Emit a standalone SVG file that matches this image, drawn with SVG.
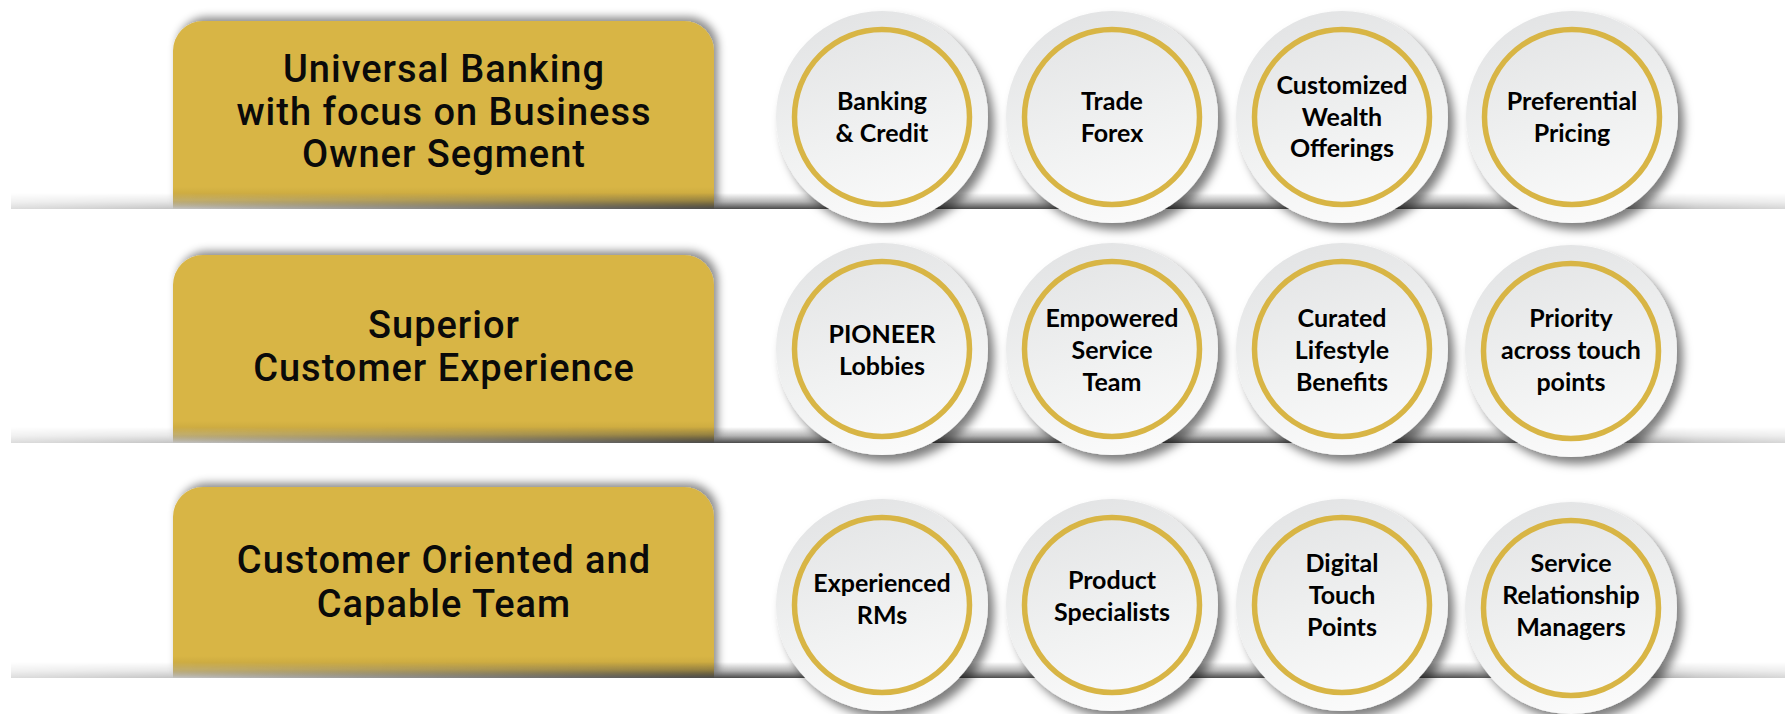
<svg xmlns="http://www.w3.org/2000/svg" width="1785" height="714" viewBox="0 0 1785 714">
  <style>
    .pillar { fill: #d8b545; }
    .pillar-foot { fill: url(#footShade); }
    .title { font-family: Roboto, "Liberation Sans", sans-serif; font-weight: 500; font-size: 38px; letter-spacing: 1px; fill: #0a0a0a; text-anchor: middle; }
    .disc { fill: url(#discFill); }
    .ring { fill: none; stroke: #d8b545; stroke-width: 5.5; }
    .label { font-family: Lato, "Open Sans", sans-serif; font-weight: 700; font-size: 25px; fill: #000; text-anchor: middle; }
    .shelf { fill: url(#shelfTone); }
  </style>
  <defs>
    <!-- soft shading of the disc face -->
    <linearGradient id="discFill" x1="0.35" y1="0" x2="0.65" y2="1">
      <stop offset="0" stop-color="#e3e4e5"/>
      <stop offset="0.55" stop-color="#f0f1f1"/>
      <stop offset="1" stop-color="#fbfbfb"/>
    </linearGradient>
    <!-- darkening at the foot of each gold pillar -->
    <linearGradient id="footShade" x1="0" y1="0" x2="0" y2="1">
      <stop offset="0" stop-color="#2a1e00" stop-opacity="0"/>
      <stop offset="0.6" stop-color="#2a1e00" stop-opacity="0.12"/>
      <stop offset="1" stop-color="#2a1e00" stop-opacity="0.42"/>
    </linearGradient>
    <!-- shelf shade along its length -->
    <linearGradient id="shelfTone" gradientUnits="userSpaceOnUse" x1="0" y1="0" x2="1785" y2="0">
      <stop offset="0" stop-color="#dedede"/>
      <stop offset="0.097" stop-color="#c4c4c4"/>
      <stop offset="0.40" stop-color="#4a4a4a"/>
      <stop offset="0.82" stop-color="#505050"/>
      <stop offset="0.90" stop-color="#8c8c8c"/>
      <stop offset="0.95" stop-color="#c6c6c6"/>
      <stop offset="1" stop-color="#d6d6d6"/>
    </linearGradient>
    <!-- shelf fades upward into the page -->
    <linearGradient id="shelfRamp" x1="0" y1="0" x2="0" y2="1">
      <stop offset="0" stop-color="#000"/>
      <stop offset="0.55" stop-color="#6a6a6a"/>
      <stop offset="1" stop-color="#fff"/>
    </linearGradient>
    <mask id="shelfFade" maskContentUnits="objectBoundingBox" x="0" y="0" width="1" height="1">
      <rect width="1" height="1" fill="url(#shelfRamp)"/>
    </mask>
    <filter id="pillarShadow" x="-5%" y="-10%" width="115%" height="120%">
      <feDropShadow dx="4" dy="-4" stdDeviation="4" flood-color="#000" flood-opacity="0.45"/>
    </filter>
    <filter id="discShadow" x="-15%" y="-15%" width="135%" height="135%">
      <feDropShadow dx="6" dy="7" stdDeviation="5" flood-color="#000" flood-opacity="0.5"/>
    </filter>
    <clipPath id="clipRow1"><rect x="0" y="0" width="1785" height="209"/></clipPath>
    <clipPath id="clipRow2"><rect x="0" y="230" width="1785" height="213"/></clipPath>
    <clipPath id="clipRow3"><rect x="0" y="465" width="1785" height="213"/></clipPath>
    <g id="medal">
      <circle class="disc" r="106"/>
      <circle class="ring" r="87.5"/>
    </g>
  </defs>

  <rect width="1785" height="714" fill="#fff"/>

  <!-- gold pillars -->
  <g id="pillar-universal-banking" clip-path="url(#clipRow1)">
    <path class="pillar" filter="url(#pillarShadow)" d="M173,209 V51 A30,30 0 0 1 203,21 H684 A30,30 0 0 1 714,51 V209 Z"/>
    <rect class="pillar-foot" x="173" y="187" width="541" height="22"/>
    <text class="title" x="444" y="82">Universal Banking</text>
    <text class="title" x="444" y="125">with focus on Business</text>
    <text class="title" x="444" y="167">Owner Segment</text>
  </g>
  <g id="pillar-customer-experience" clip-path="url(#clipRow2)">
    <path class="pillar" filter="url(#pillarShadow)" d="M173,443 V285 A30,30 0 0 1 203,255 H684 A30,30 0 0 1 714,285 V443 Z"/>
    <rect class="pillar-foot" x="173" y="421" width="541" height="22"/>
    <text class="title" x="444" y="338">Superior</text>
    <text class="title" x="444" y="381">Customer Experience</text>
  </g>
  <g id="pillar-capable-team" clip-path="url(#clipRow3)">
    <path class="pillar" filter="url(#pillarShadow)" d="M173,678 V517 A30,30 0 0 1 203,487 H684 A30,30 0 0 1 714,517 V678 Z"/>
    <rect class="pillar-foot" x="173" y="656" width="541" height="22"/>
    <text class="title" x="444" y="573">Customer Oriented and</text>
    <text class="title" x="444" y="617">Capable Team</text>
  </g>

  <!-- shelves under each row -->
  <g id="connectors">
    <rect class="shelf" x="11" y="193" width="1774" height="16" mask="url(#shelfFade)"/>
    <rect class="shelf" x="11" y="427" width="1774" height="16" mask="url(#shelfFade)"/>
    <rect class="shelf" x="11" y="662" width="1774" height="16" mask="url(#shelfFade)"/>
  </g>

  <!-- row 1 -->
  <g id="node-banking-credit">
    <use href="#medal" x="882" y="117" filter="url(#discShadow)"/>
    <text class="label" x="882" y="110">Banking</text>
    <text class="label" x="882" y="142">&amp; Credit</text>
  </g>
  <g id="node-trade-forex">
    <use href="#medal" x="1112" y="117" filter="url(#discShadow)"/>
    <text class="label" x="1112" y="110">Trade</text>
    <text class="label" x="1112" y="142">Forex</text>
  </g>
  <g id="node-wealth-offerings">
    <use href="#medal" x="1342" y="117" filter="url(#discShadow)"/>
    <text class="label" x="1342" y="94">Customized</text>
    <text class="label" x="1342" y="126">Wealth</text>
    <text class="label" x="1342" y="157">Offerings</text>
  </g>
  <g id="node-preferential-pricing">
    <use href="#medal" x="1572" y="117" filter="url(#discShadow)"/>
    <text class="label" x="1572" y="110">Preferential</text>
    <text class="label" x="1572" y="142">Pricing</text>
  </g>

  <!-- row 2 -->
  <g id="node-pioneer-lobbies">
    <use href="#medal" x="882" y="349" filter="url(#discShadow)"/>
    <text class="label" x="882" y="343">PIONEER</text>
    <text class="label" x="882" y="375">Lobbies</text>
  </g>
  <g id="node-service-team">
    <use href="#medal" x="1112" y="349" filter="url(#discShadow)"/>
    <text class="label" x="1112" y="327">Empowered</text>
    <text class="label" x="1112" y="359">Service</text>
    <text class="label" x="1112" y="391">Team</text>
  </g>
  <g id="node-lifestyle-benefits">
    <use href="#medal" x="1342" y="349" filter="url(#discShadow)"/>
    <text class="label" x="1342" y="327">Curated</text>
    <text class="label" x="1342" y="359">Lifestyle</text>
    <text class="label" x="1342" y="391">Benefits</text>
  </g>
  <g id="node-priority-touch-points">
    <use href="#medal" x="1571" y="351" filter="url(#discShadow)"/>
    <text class="label" x="1571" y="327">Priority</text>
    <text class="label" x="1571" y="359">across touch</text>
    <text class="label" x="1571" y="391">points</text>
  </g>

  <!-- row 3 -->
  <g id="node-experienced-rms">
    <use href="#medal" x="882" y="605" filter="url(#discShadow)"/>
    <text class="label" x="882" y="592">Experienced</text>
    <text class="label" x="882" y="624">RMs</text>
  </g>
  <g id="node-product-specialists">
    <use href="#medal" x="1112" y="605" filter="url(#discShadow)"/>
    <text class="label" x="1112" y="589">Product</text>
    <text class="label" x="1112" y="621">Specialists</text>
  </g>
  <g id="node-digital-touch-points">
    <use href="#medal" x="1342" y="605" filter="url(#discShadow)"/>
    <text class="label" x="1342" y="572">Digital</text>
    <text class="label" x="1342" y="604">Touch</text>
    <text class="label" x="1342" y="636">Points</text>
  </g>
  <g id="node-relationship-managers">
    <use href="#medal" x="1571" y="608" filter="url(#discShadow)"/>
    <text class="label" x="1571" y="572">Service</text>
    <text class="label" x="1571" y="604">Relationship</text>
    <text class="label" x="1571" y="636">Managers</text>
  </g>
</svg>
